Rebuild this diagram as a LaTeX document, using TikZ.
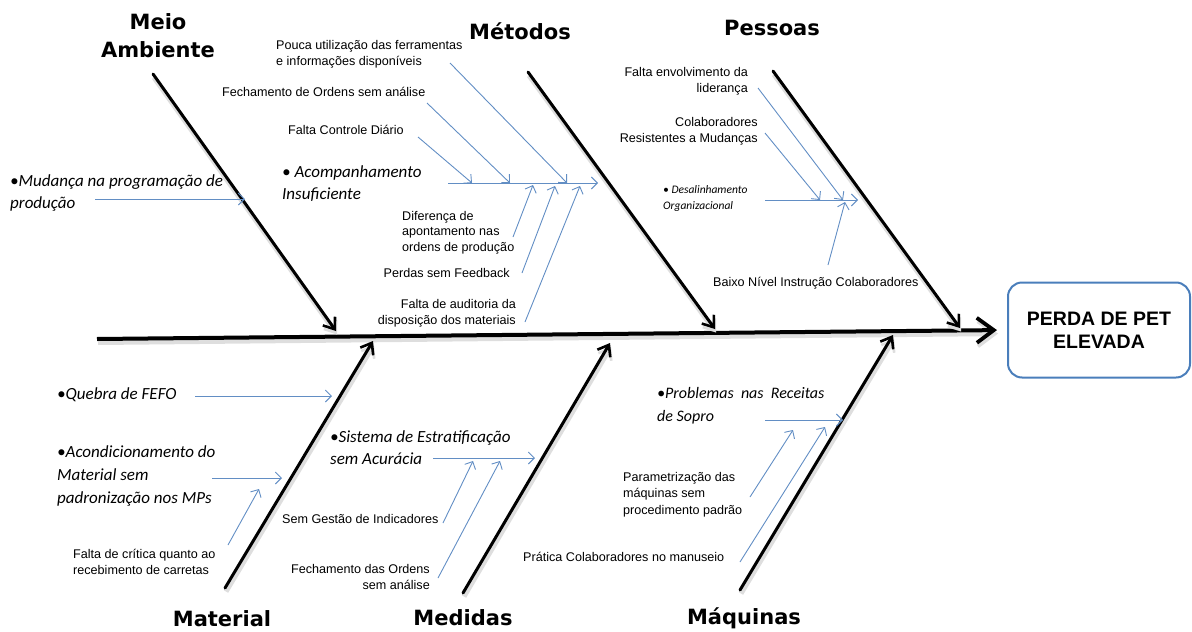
\documentclass[tikz,border=0pt]{standalone}
\usepackage{fontspec}
\setmainfont{Liberation Sans}
\newfontfamily\catfont{DejaVu Sans}
\newfontfamily\itfont{Carlito}
\usetikzlibrary{arrows.meta}
\definecolor{twigblue}{RGB}{98,142,196}
\definecolor{headblue}{RGB}{74,126,187}
\tikzset{
  softshade/.style={preaction={draw=black!13, line width=5pt, transform canvas={shift={(1pt,-3.5pt)}}}},
  bone/.style={softshade, line width=3pt, line cap=round, -{Straight Barb[length=10pt,width=15pt,line width=2.6pt]}},
  spine/.style={softshade, line width=4pt, -{Straight Barb[length=17pt,width=25pt,line width=3.8pt]}},
  twig/.style={draw=twigblue, line width=0.9pt, -{Straight Barb[length=6pt,width=12pt,line width=0.9pt]}},
  cat/.style={font=\catfont\bfseries\fontsize{21}{28}\selectfont, align=center, inner sep=0pt},
  cause/.style={font=\fontsize{12.6}{16.5}\selectfont, inner sep=0pt},
  icause/.style={font=\itfont\itshape\fontsize{17}{22}\selectfont, inner sep=0pt},
  effect/.style={draw=headblue, line width=2pt, rounded corners=14pt, minimum width=182pt,
    minimum height=95pt, align=center, font=\bfseries\fontsize{19.5}{23}\selectfont},
}
\begin{document}
\begin{tikzpicture}[x=1pt,y=-1pt]
\useasboundingbox (0,0) rectangle (1192,632);

% effect and spine
\node[effect] (effect) at (1099,330) {PERDA DE PET\\ELEVADA};
\coordinate (tail) at (97,339);
\draw[spine] (tail) -- (effect.west) [shorten >=10pt];

% category labels
\node[cat] (lblMA)  at (158,36)  {Meio\\Ambiente};
\node[cat] (lblMet) at (520,31)  {Métodos};
\node[cat] (lblPes) at (772,28)  {Pessoas};
\node[cat] (lblMat) at (222,619) {Material};
\node[cat] (lblMed) at (463,618) {Medidas};
\node[cat] (lblMaq) at (744,618) {Máquinas};

% main bones
\coordinate (maS) at (153,74);  \coordinate (maE) at (336,331);
\coordinate (meS) at (528,72);  \coordinate (meE) at (715,329);
\coordinate (peS) at (773,71);  \coordinate (peE) at (960,328);
\coordinate (mtS) at (225,588); \coordinate (mtE) at (373,341);
\coordinate (mdS) at (463,593); \coordinate (mdE) at (610,343);
\coordinate (mqS) at (740,590); \coordinate (mqE) at (893,335);
\foreach \a in {ma,me,pe,mt,md,mq} \draw[bone] (\a S) -- (\a E);

% ---- Meio Ambiente
\node[icause, anchor=north west, align=left] (mud) at (10,174) {•Mudança na programação de\\produção};
\coordinate (mudS) at (95,199); \coordinate (mudE) at (245,199);
\draw[twig] (mudS) -- (mudE);

% ---- Métodos
\node[cause, anchor=north west, align=left] (pouca) at (276,40) {Pouca utilização das ferramentas\\e informações disponíveis};
\node[cause, anchor=north west] (fecho) at (222,87) {Fechamento de Ordens sem análise};
\node[cause, anchor=north west] (fcd) at (288,125) {Falta Controle Diário};
\node[icause, anchor=north west, align=left] (acomp) at (282,165) {• Acompanhamento\\Insuficiente};
\node[cause, anchor=north west, align=left, font=\fontsize{12.6}{15.5}\selectfont] (dif) at (402,211) {Diferença de\\apontamento nas\\ordens de produção};
\node[cause, anchor=north east] (perd) at (510,268) {Perdas sem Feedback};
\node[cause, anchor=north east, align=right] (aud) at (516,299) {Falta de auditoria da\\disposição dos materiais};
\coordinate (meH0) at (448,183); \coordinate (meH1) at (598,183);
\coordinate (pouS) at (450,63);  \coordinate (pouE) at (567,183);
\coordinate (fecS) at (427,103); \coordinate (fecE) at (510,183);
\coordinate (fcdS) at (418,137); \coordinate (fcdE) at (472,183);
\coordinate (difS) at (513,237); \coordinate (difE) at (533,185);
\coordinate (perS) at (522,273); \coordinate (perE) at (555,186);
\coordinate (audS) at (525,322); \coordinate (audE) at (580,186);
\draw[twig] (meH0) -- (meH1);
\foreach \c in {pou,fec,fcd,dif,per,aud} \draw[twig] (\c S) -- (\c E);

% ---- Pessoas
\node[cause, anchor=north east, align=right] (lid) at (748,67) {Falta envolvimento da\\liderança};
\node[cause, anchor=north east, align=right] (res) at (758,117) {Colaboradores\\Resistentes a Mudanças};
\node[icause, anchor=north west, align=left, font=\itfont\itshape\fontsize{11.5}{16}\selectfont] (des) at (663,185) {• Desalinhamento\\Organizacional};
\node[cause, anchor=north west] (bx) at (713,277) {Baixo Nível Instrução Colaboradores};
\coordinate (peH0) at (765,200); \coordinate (peH1) at (858,200);
\coordinate (lidS) at (758,88);  \coordinate (lidE) at (843,200);
\coordinate (resS) at (765,133); \coordinate (resE) at (820,200);
\coordinate (bxS) at (828,265);  \coordinate (bxE) at (845,202);
\draw[twig] (peH0) -- (peH1);
\foreach \c in {lid,res,bx} \draw[twig] (\c S) -- (\c E);

% ---- Material
\node[icause, anchor=north west] (feo) at (57,387) {•Quebra de FEFO};
\node[icause, anchor=north west, align=left, font=\itfont\itshape\fontsize{17}{23}\selectfont] (aco) at (57,445) {•Acondicionamento do\\Material sem\\padronização nos MPs};
\node[cause, anchor=north west, align=left] (crit) at (73,549) {Falta de crítica quanto ao\\recebimento de carretas};
\coordinate (feoS) at (195,396); \coordinate (feoE) at (332,396);
\coordinate (acoS) at (212,478); \coordinate (acoE) at (282,478);
\coordinate (critS) at (228,545); \coordinate (critE) at (259,489);
\foreach \c in {feo,aco,crit} \draw[twig] (\c S) -- (\c E);

% ---- Medidas
\node[icause, anchor=north west, align=left] (sis) at (330,430) {•Sistema de Estratificação\\sem Acurácia};
\node[cause, anchor=north west] (ges) at (282,514) {Sem Gestão de Indicadores};
\node[cause, anchor=north east, align=right] (fda) at (430,564) {Fechamento das Ordens\\sem análise};
\coordinate (sisS) at (433,458); \coordinate (sisE) at (535,458);
\coordinate (gesS) at (443,523); \coordinate (gesE) at (473,461);
\coordinate (fdaS) at (438,578); \coordinate (fdaE) at (500,461);
\foreach \c in {sis,ges,fda} \draw[twig] (\c S) -- (\c E);

% ---- Máquinas
\node[icause, anchor=north west, align=left, font=\itfont\itshape\fontsize{16}{23}\selectfont] (rec) at (657,387) {•Problemas\ \ nas\ \ Receitas\\de Sopro};
\node[cause, anchor=north west, align=left] (par) at (623,472) {Parametrização das\\máquinas sem\\procedimento padrão};
\node[cause, anchor=north west] (pra) at (523,552) {Prática Colaboradores no manuseio};
\coordinate (recS) at (765,420); \coordinate (recE) at (843,420);
\coordinate (parS) at (750,497); \coordinate (parE) at (793,430);
\coordinate (praS) at (740,562); \coordinate (praE) at (825,427);
\foreach \c in {rec,par,pra} \draw[twig] (\c S) -- (\c E);
\end{tikzpicture}
\end{document}
